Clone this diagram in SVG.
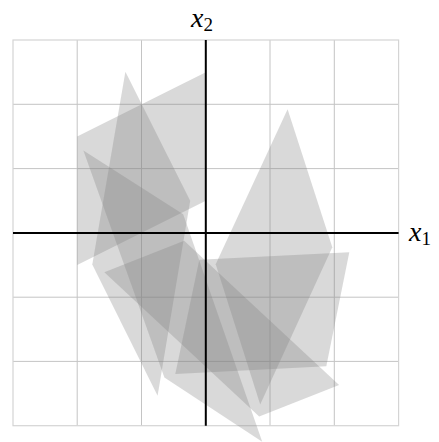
<svg xmlns="http://www.w3.org/2000/svg" width="439" height="442" viewBox="0 0 439 442">
<style>
.grid{stroke:#c4c4c4;stroke-width:1;fill:none}
.frame{stroke:#d4d4d4;stroke-width:1.2;fill:none}
.axis{stroke:#000;stroke-width:2;fill:none}
.poly{fill:#808080;fill-opacity:0.3;stroke:none}
.lbl{font-family:"Liberation Serif","DejaVu Serif",serif;font-style:italic;font-size:28px;fill:#000}
.sub{font-style:normal;font-size:19px}
</style>
<rect width="439" height="442" fill="#fff"/>
<g id="grid">
<path class="grid" d="M77.2 40V425.7M141.5 40V425.7M270 40V425.7M334.3 40V425.7M13 104.3H398.6M13 168.6H398.6M13 297.2H398.6M13 361.4H398.6"/>
<rect class="frame" x="13" y="40" width="385.6" height="385.7"/>
</g>
<g id="shapes">
<polygon id="pA" class="poly" points="77.2,136.5 205.8,72.2 205.8,200.8 77.2,265.1"/>
<polygon id="pB" class="poly" points="125.4,71.7 190.2,200.8 157.6,395.7 92.3,264.6"/>
<polygon id="pC" class="poly" points="83.4,150.6 183.2,214.2 262.2,441.8 164.4,377.5"/>
<polygon id="pD" class="poly" points="104.3,272.3 184.2,240.8 339.1,385 259.2,416.5"/>
<polygon id="pE" class="poly" points="287.6,109.3 332.3,247.3 260.2,404.6 215.7,264.3"/>
<polygon id="pF" class="poly" points="199.3,259.8 349.3,252.3 326.3,366.2 175.3,374"/>
</g>
<g id="axes">
<line class="axis" x1="13" y1="232.9" x2="398.6" y2="232.9"/>
<line class="axis" x1="205.8" y1="40" x2="205.8" y2="425.7"/>
</g>
<g id="labels">
<text class="lbl" x="409" y="241">x<tspan class="sub" dy="4">1</tspan></text>
<text class="lbl" x="191" y="27">x<tspan class="sub" dy="4">2</tspan></text>
</g>
</svg>
